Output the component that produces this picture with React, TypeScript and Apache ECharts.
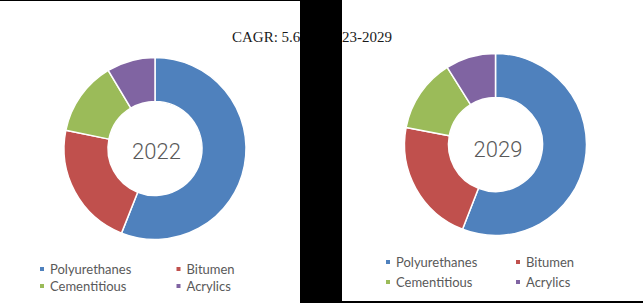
import React, { useEffect, useRef } from "react";
import * as echarts from "echarts";

const categories = ["Polyurethanes", "Bitumen", "Cementitious", "Acrylics"];
const colors = ["#4F81BD", "#C0504D", "#9BBB59", "#8064A2"];
const years = ["2022", "2029"];
const share2022 = [56.0, 22.2, 13.2, 8.6];
const share2029 = [55.9, 22.1, 13.1, 8.9];
const cagrLeft = "CAGR: 5.6%";
const cagrRight = "2023-2029";

export default function App() {
  const ref = useRef<HTMLDivElement>(null);
  useEffect(() => {
    if (!ref.current) return;
    const chart = echarts.init(ref.current, null, { renderer: "svg" });
    const mk = (vals: number[]) =>
      categories.map((c, i) => ({ name: c, value: vals[i], itemStyle: { color: colors[i] } }));
    const centers = [
      [155, 148.5],
      [495.5, 144.5],
    ];
    const legendPos = [
      { col: [38, 174.5], row: [262, 279] },
      { col: [384, 514], row: [255, 275] },
    ];
    const legends: any[] = [];
    legendPos.forEach((lp) => {
      categories.forEach((c, i) => {
        legends.push({
          data: [c],
          left: lp.col[i % 2],
          top: lp.row[Math.floor(i / 2)],
          padding: 0,
          itemWidth: 6,
          itemHeight: 6,
          icon: "rect",
          selectedMode: false,
          textStyle: { fontFamily: "Lato", fontSize: 13, color: "#595959", lineHeight: 14 },
        });
      });
    });
    chart.setOption({
      animation: false,
      legend: legends,
      series: [share2022, share2029].map((vals, k) => ({
        type: "pie",
        center: centers[k],
        radius: [47, 91],
        startAngle: 90,
        clockwise: true,
        label: { show: false },
        labelLine: { show: false },
        emphasis: { disabled: true },
        itemStyle: { borderColor: "#fff", borderWidth: 1.5 },
        data: mk(vals),
      })),
      graphic: [
        {
          type: "text",
          x: 156.5,
          y: 151,
          style: {
            text: years[0],
            fontFamily: "Roboto",
            fontWeight: 300,
            fontSize: 22,
            fill: "#595959",
            textAlign: "center",
            textVerticalAlign: "middle",
          },
        },
        {
          type: "text",
          x: 498,
          y: 149,
          style: {
            text: years[1],
            fontFamily: "Roboto",
            fontWeight: 300,
            fontSize: 22,
            fill: "#595959",
            textAlign: "center",
            textVerticalAlign: "middle",
          },
        },
        {
          type: "text",
          x: 232,
          y: 37,
          style: {
            text: cagrLeft,
            fontFamily: "Liberation Serif",
            fontSize: 15,
            fill: "#1a1a1a",
            textAlign: "left",
            textVerticalAlign: "middle",
          },
        },
        {
          type: "text",
          x: 392,
          y: 37,
          style: {
            text: cagrRight,
            fontFamily: "Liberation Serif",
            fontSize: 15,
            fill: "#1a1a1a",
            textAlign: "right",
            textVerticalAlign: "middle",
          },
        },
        { type: "rect", z: 100, shape: { x: 300, y: 0, width: 42, height: 303 }, style: { fill: "#000" } },
        { type: "rect", z: 100, shape: { x: 0, y: 0, width: 300, height: 1 }, style: { fill: "#000" } },
        { type: "rect", z: 100, shape: { x: 342, y: 301, width: 301, height: 2 }, style: { fill: "#000" } },
      ],
    });
    return () => chart.dispose();
  }, []);
  return (
    <div
      ref={ref}
      style={{ position: "absolute", left: 0, top: 0, width: 643, height: 303, background: "#fff" }}
    />
  );
}
